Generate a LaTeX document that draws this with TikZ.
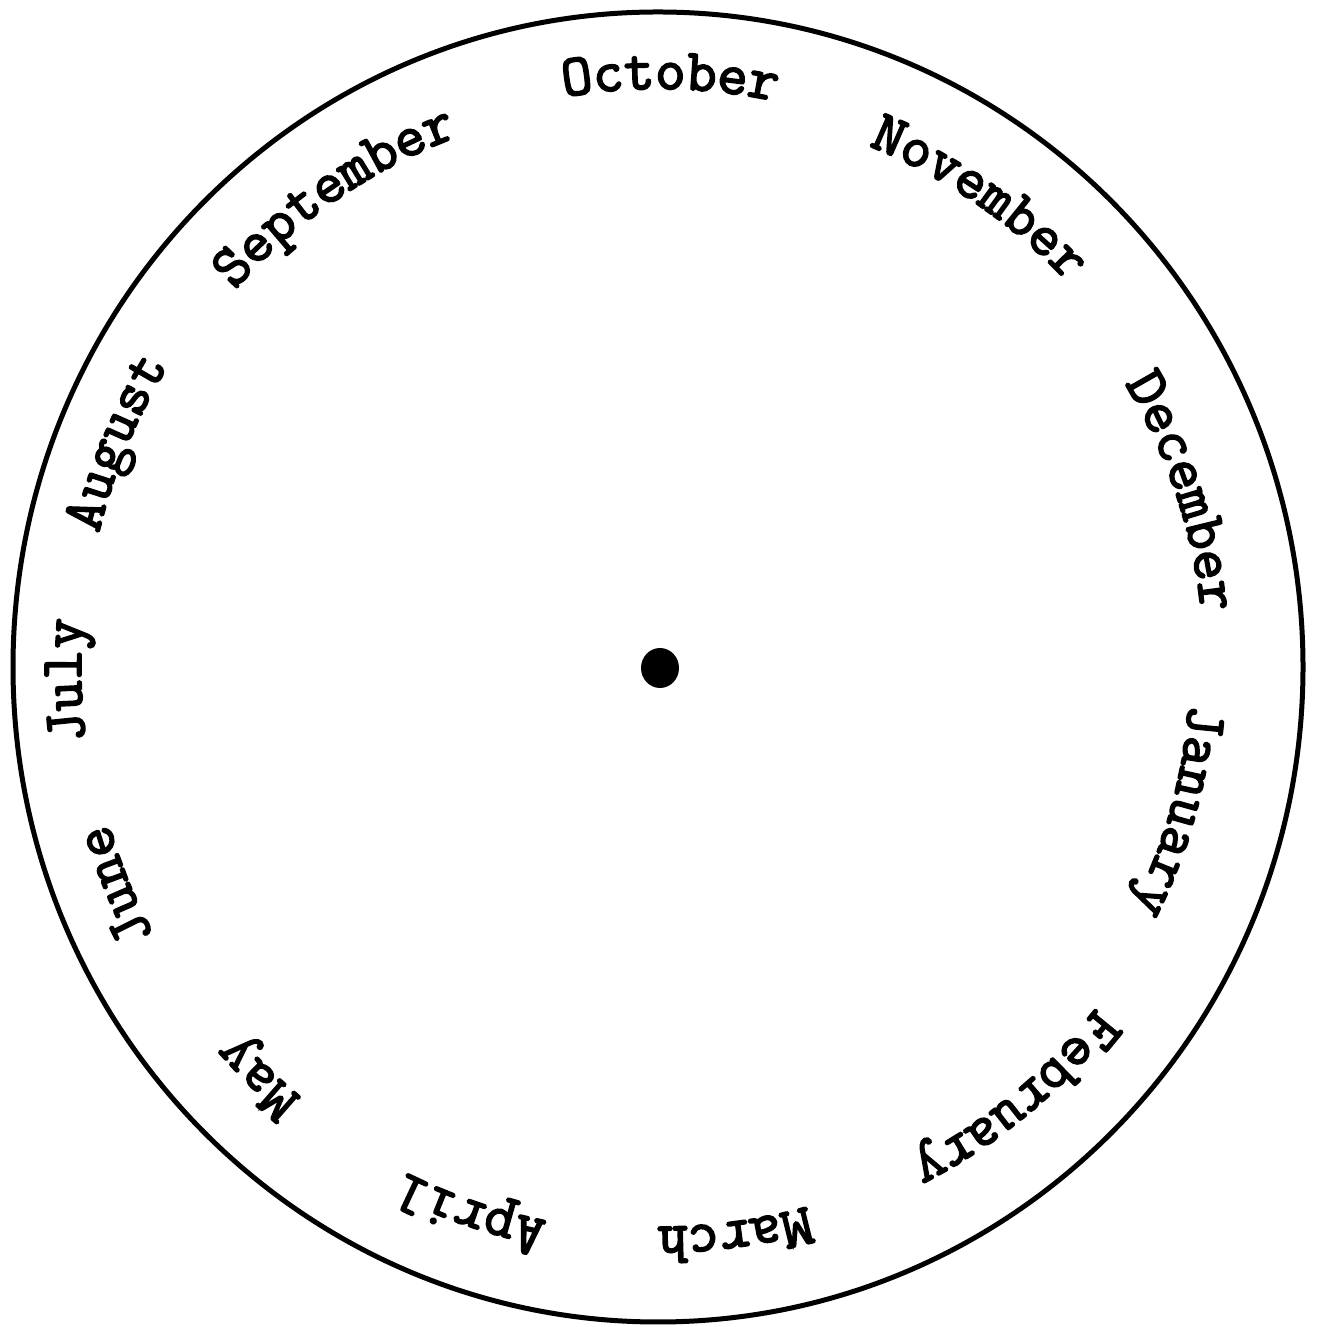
\documentclass[tikz,border=0pt]{standalone}
\usepackage{fontspec}
\newfontfamily\monthfont[FakeBold=3]{Latin Modern Mono}
\usetikzlibrary{decorations.text}
\tikzset{
  rim/.style={line width=0.5mm, black},
  month/.style={decorate, decoration={text along path, text align=center,
     text={|\monthfont\fontsize{16.8}{19}\selectfont|#1}}}
}
\newcommand\monthlabel[3]{% angle, radius, text
  \path[month={#3}] (658,660) ++({#1+28}:#2) arc[start angle={#1+28}, end angle={#1-28}, radius=#2];
}
\begin{document}
\begin{tikzpicture}[x=0.1mm,y=0.1mm]
\useasboundingbox (0,0) rectangle (1319,1327);
\draw[rim] (658,660) ellipse [x radius=645, y radius=655];
\fill (660,659) ellipse [x radius=19, y radius=20];
\monthlabel{88.8}{578}{October}
\monthlabel{55.6}{562}{November}
\monthlabel{18.5}{546}{December}
\monthlabel{-15.5}{532}{January}
\monthlabel{-50.4}{555}{February}
\monthlabel{-82.3}{560}{March}
\monthlabel{-109}{565}{April}
\monthlabel{-134.3}{559}{May}
\monthlabel{-158}{571}{June}
\monthlabel{-178.7}{577}{July}
\monthlabel{157.5}{575}{August}
\monthlabel{124.5}{567}{September}
\end{tikzpicture}
\end{document}
